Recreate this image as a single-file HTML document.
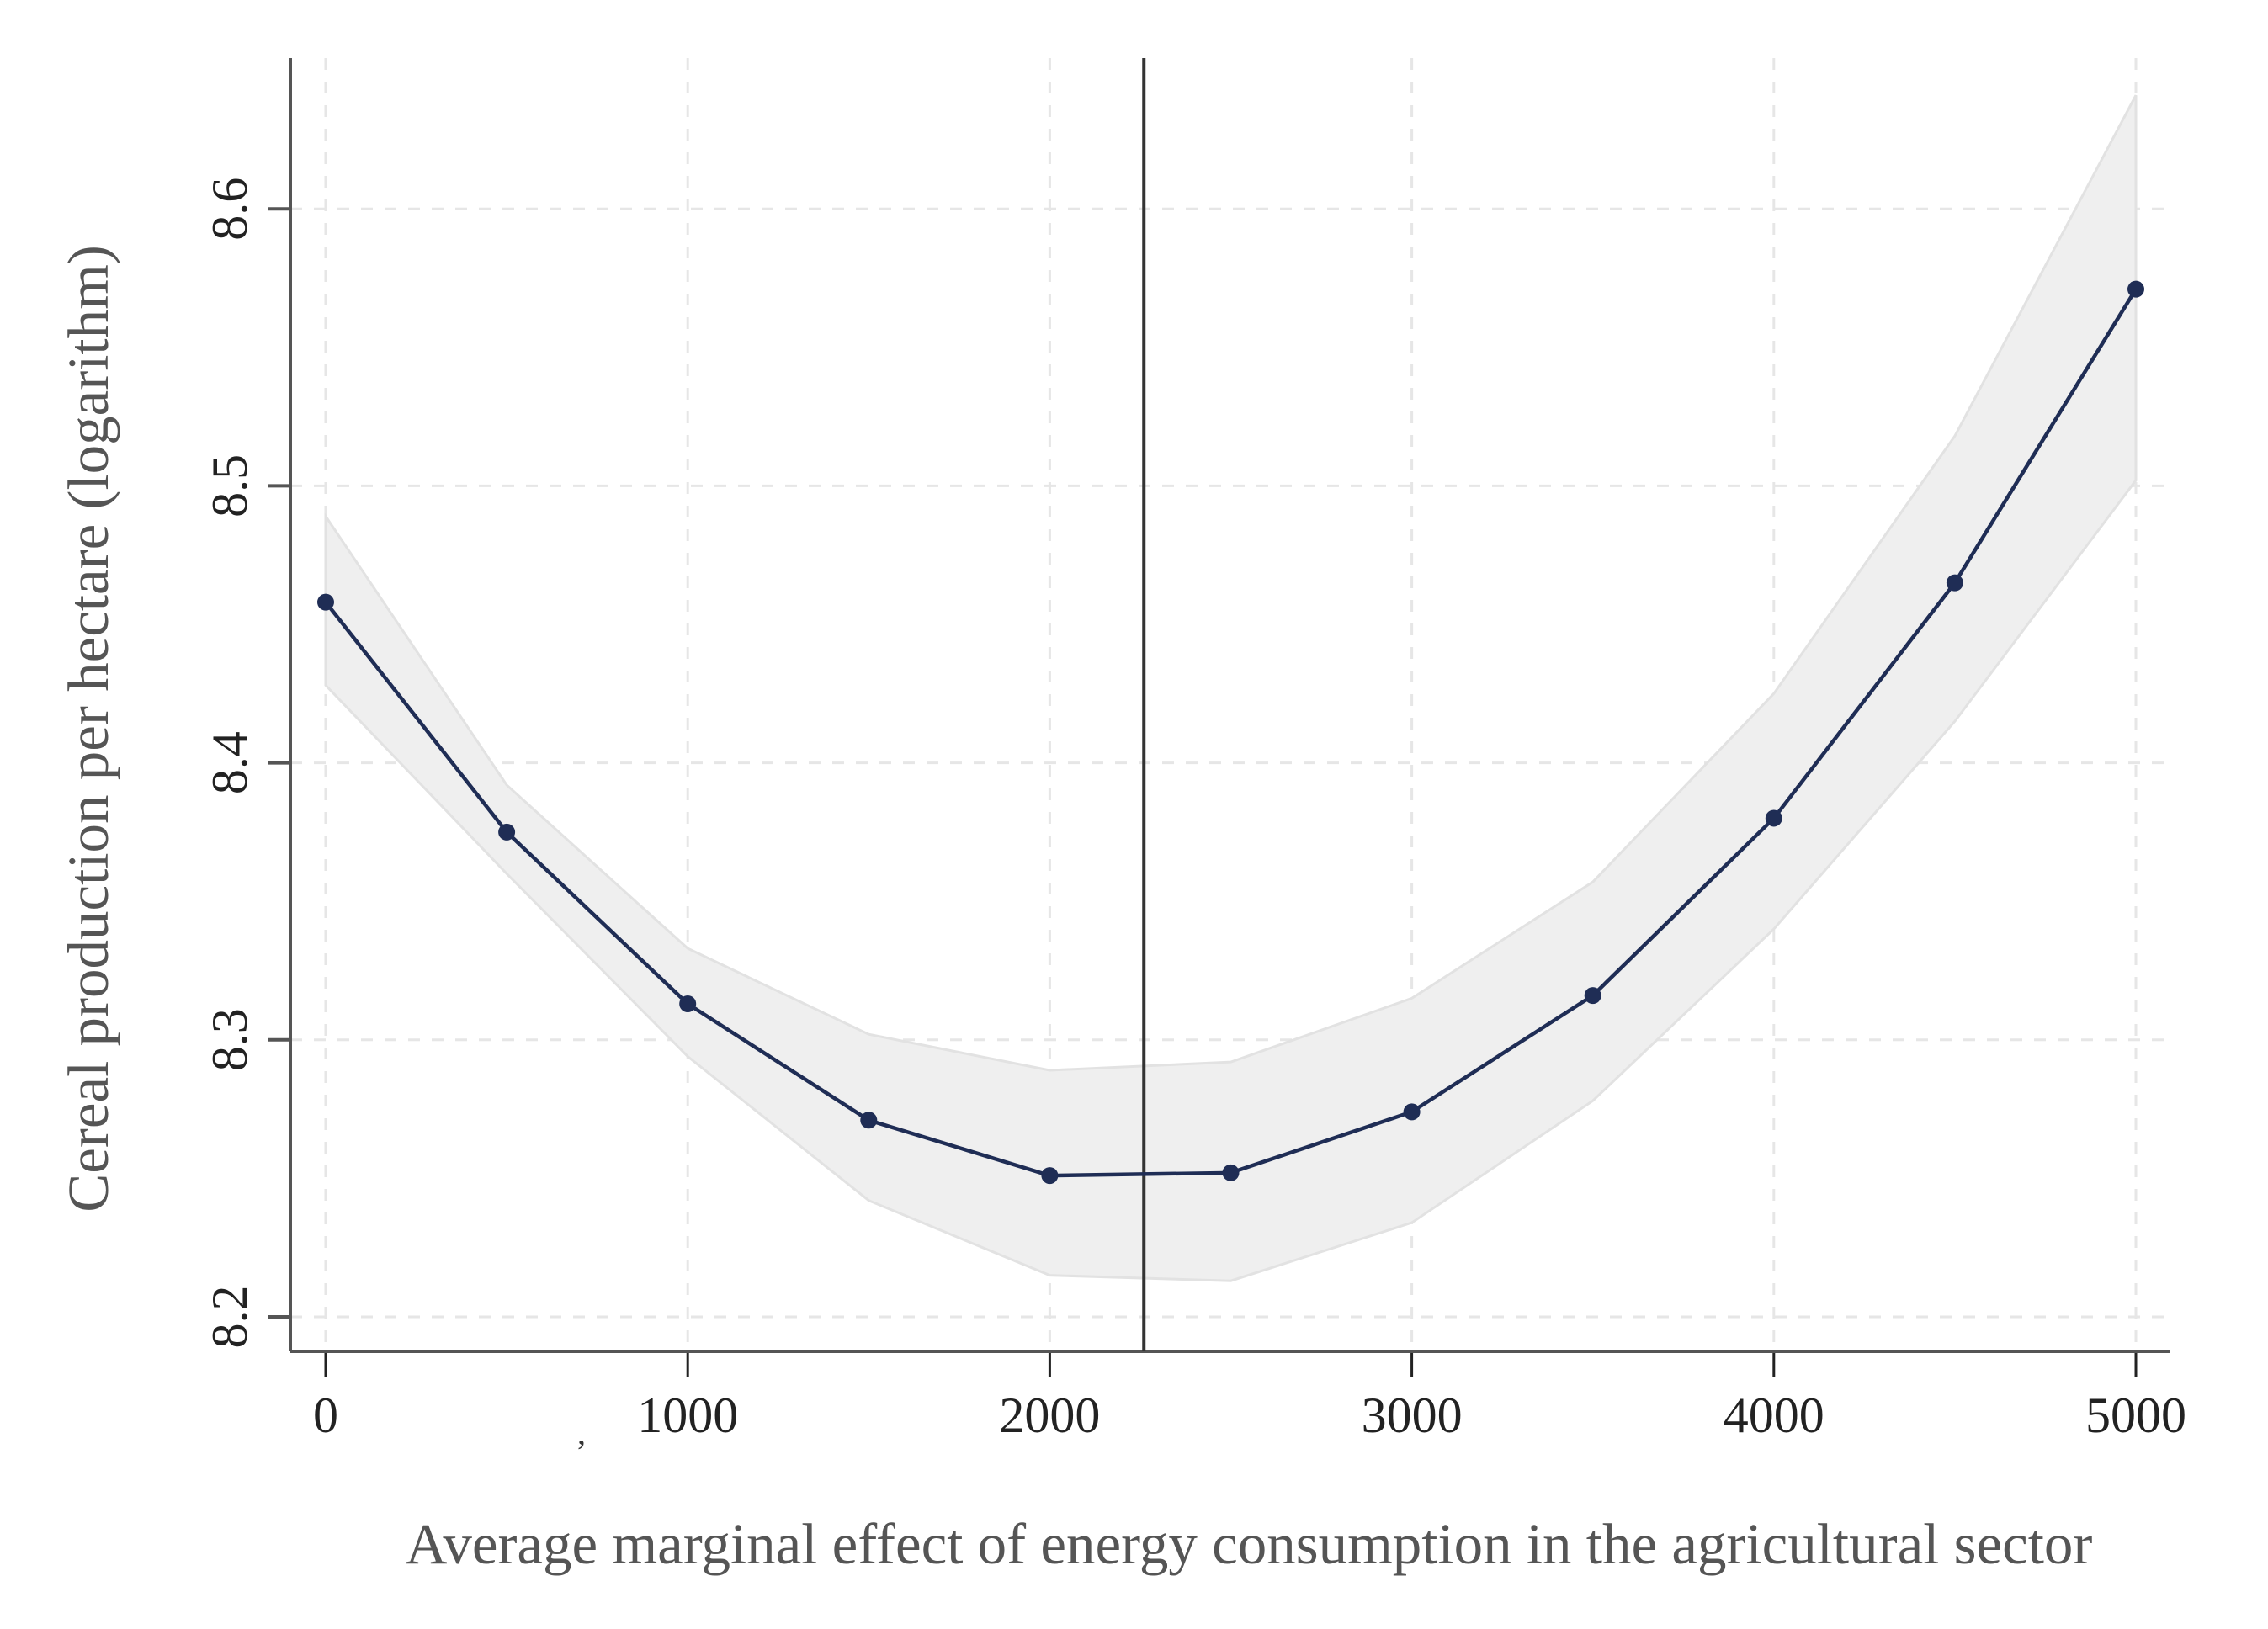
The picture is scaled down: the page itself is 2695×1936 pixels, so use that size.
<!DOCTYPE html>
<html><head><meta charset="utf-8"><style>
html,body{margin:0;padding:0;background:#fff}
svg text{font-family:"Liberation Serif",serif}
</style></head><body>
<svg id="chart" width="2695" height="1931" viewBox="0 0 2695 1931" xmlns="http://www.w3.org/2000/svg">
<g id="grid"></g>
<g id="band"></g>
<g id="axes"></g>
<g id="series"></g>
<text x="0" y="0" transform="translate(128,866) rotate(-90)" text-anchor="middle" font-size="69" fill="#555">Cereal production per hectare (logarithm)</text>
<text x="1484" y="1858" text-anchor="middle" font-size="69" fill="#555">Average marginal effect of energy consumption in the agricultural sector</text>
<text x="686" y="1716" font-size="40" fill="#333">,</text>
</svg>
<script>
const xValues=[0,500,1000,1500,2000,2500,3000,3500,4000,4500,5000];
const meanValues=[8.458,8.375,8.313,8.271,8.251,8.252,8.274,8.316,8.380,8.465,8.571];
const upperValues=[8.489,8.392,8.333,8.302,8.289,8.292,8.315,8.357,8.425,8.518,8.641];
const lowerValues=[8.428,8.360,8.294,8.242,8.215,8.213,8.234,8.278,8.340,8.415,8.502];
const xTicks=[0,1000,2000,3000,4000,5000];
const xGrid=[0,1000,2000,3000,4000,5000];
const yTicks=[8.2,8.3,8.4,8.5,8.6];
const refLineX=2260;

const NS="http://www.w3.org/2000/svg";
const sx=v=>387+(v/1000)*430.2;
const sy=v=>1565-(v-8.2)/0.1*329.2;
const L=345,B=1606,R=2579,T=69;
function mk(tag,attrs,parent){const e=document.createElementNS(NS,tag);for(const k in attrs)e.setAttribute(k,attrs[k]);parent.appendChild(e);return e;}
const grid=document.getElementById('grid'),band=document.getElementById('band'),axes=document.getElementById('axes'),series=document.getElementById('series');
yTicks.forEach(t=>{
 const g=mk('line',{x1:L,x2:R,y1:sy(t),y2:sy(t),stroke:'#e6e6e6','stroke-width':3,'stroke-dasharray':'14 14'},grid);
 
 
 const tk=mk('line',{x1:L-26,x2:L,y1:sy(t),y2:sy(t),stroke:'#555','stroke-width':4},axes);
 
 
 const tx=mk('text',{x:0,y:0,transform:`translate(293,${sy(t)}) rotate(-90)`,'text-anchor':'middle','font-size':60,fill:'#222'},axes);
 tx.textContent=t.toFixed(1);
 
 
});
xGrid.forEach(t=>{
 const g=mk('line',{x1:sx(t),x2:sx(t),y1:T,y2:B,stroke:'#e6e6e6','stroke-width':3,'stroke-dasharray':'14 14'},grid);
 
 
});
xTicks.forEach(t=>{
 const tk=mk('line',{x1:sx(t),x2:sx(t),y1:B,y2:B+31,stroke:'#222','stroke-width':3},axes);
 
 
 const tx=mk('text',{x:sx(t),y:1702,'text-anchor':'middle','font-size':60,fill:'#222'},axes);
 tx.textContent=String(t);
 
 
});
let pts=xValues.map((x,i)=>sx(x)+','+sy(upperValues[i]));
for(let i=xValues.length-1;i>=0;i--)pts.push(sx(xValues[i])+','+sy(lowerValues[i]));
const poly=mk('polygon',{points:pts.join(' '),fill:'#efefef',stroke:'#e2e2e2','stroke-width':3},band);


const ax1=mk('line',{x1:L,x2:L,y1:T,y2:B,stroke:'#555','stroke-width':4},axes);


const ax2=mk('line',{x1:L,x2:R,y1:B,y2:B,stroke:'#555','stroke-width':4},axes);


const ref=mk('line',{x1:sx(refLineX),x2:sx(refLineX),y1:T,y2:B,stroke:'#333','stroke-width':4},axes);


const pl=mk('polyline',{points:xValues.map((x,i)=>sx(x)+','+sy(meanValues[i])).join(' '),fill:'none',stroke:'#1f2d55','stroke-width':4.5},series);


xValues.forEach((x,i)=>{
 const c=mk('circle',{cx:sx(x),cy:sy(meanValues[i]),r:10,fill:'#1f2d55'},series);
 
 
});
</script>
</body></html>
